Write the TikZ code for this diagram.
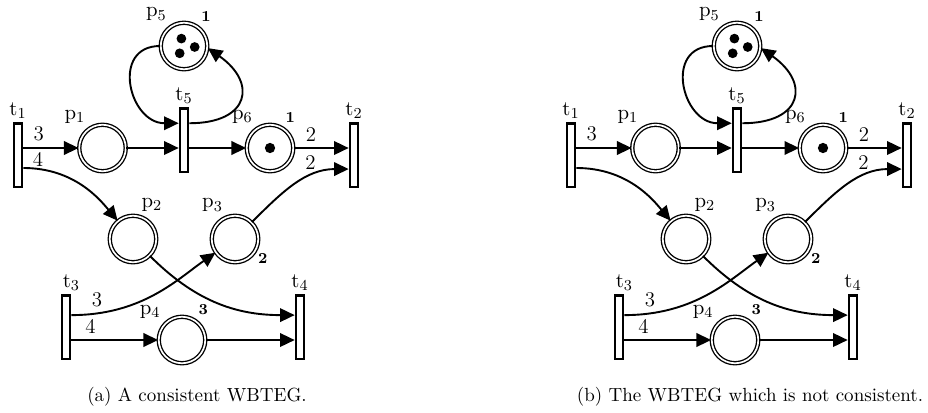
\documentclass[tikz,border=0pt]{standalone}
\usetikzlibrary{arrows.meta,calc}

\tikzset{
  place/.style={circle, draw, double, line width=0.7pt, double distance=0.9pt,
    minimum size=0.86cm, inner sep=0pt},
  trans/.style={rectangle, draw, line width=1.2pt, minimum width=0.155cm,
    minimum height=1.17cm, inner sep=0pt},
  arc/.style={-{Triangle[length=2.7mm,width=2.5mm]}, line width=1pt},
  every label/.style={font=\fontsize{11}{13}\selectfont, label distance=-1.5pt},
  tokens/.style={font=\footnotesize\bfseries},
  weight/.style={inner sep=3pt, font=\fontsize{11}{13}\selectfont},
}

\begin{document}
\begin{tikzpicture}[x=0.0185cm, y=-0.0185cm]
  \useasboundingbox (0,0) rectangle (928,412);

  \foreach \pan/\dx/\wfour/\capt in {a/0/4/{A consistent WBTEG.},
                                     b/553/{}/{The WBTEG which is not consistent.}}{
  \begin{scope}[shift={(\dx,0)}, name prefix=\pan-]
    % Transiciones
    \node[trans, label=above:$\mathrm{t}_1$] (t1) at (18,155) {};
    \node[trans, label=above:$\mathrm{t}_5$] (t5) at (184,140) {};
    \node[trans, label=above:$\mathrm{t}_2$] (t2) at (354,155) {};
    \node[trans, label={[xshift=1mm]above:$\mathrm{t}_3$}] (t3) at (66,327) {};
    \node[trans, label=above:$\mathrm{t}_4$] (t4) at (300,327) {};

    % Lugares
    \node[place, label={120:$\mathrm{p}_1$}] (p1) at (102.5,148) {};
    \node[place, label={120:$\mathrm{p}_6$}, label={[tokens]65:1}] (p6) at (270,148) {};
    \node[place, label={120:$\mathrm{p}_5$}, label={[tokens]60:1}] (p5) at (184,46) {};
    \node[place, label={85:$\mathrm{p}_2$}] (p2) at (133,239) {};
    \node[place, label={105:$\mathrm{p}_3$}, label={[tokens, label distance=-3pt]-25:2}] (p3) at (235,239) {};
    \node[place, label={135:$\mathrm{p}_4$}, label={[tokens]62:3}] (p4) at (182,340) {};

    % Marcas
    \fill (p6) circle (0.095cm);
    \fill (p5) ++(-2.6,-7.4) circle (0.09cm)
          (p5) ++(10.7,1) circle (0.09cm)
          (p5) ++(-4.3,7.3) circle (0.09cm);

    % Arcos
    \draw[arc] (t1.east |- p1) -- node[weight, pos=0.28, above] {3} (p1);
    \draw[arc] (p1) -- (t5.west |- p1);
    \draw[arc] (t5.east |- p6) -- (p6);
    \draw[arc] (p6) -- node[weight, pos=0.31, above] {2} (t2.west |- p6);
    \draw[arc] ([yshift=-2.4mm]t1.east) to[out=0, in=130]
      node[weight, pos=0.1, above, inner sep=1pt] {\wfour} (p2);
    \draw[arc] (p3) to[out=45, in=180]
      node[weight, pos=0.66, above] {2} ([yshift=-2.6mm]t2.west);
    \draw[arc] ([yshift=2.2mm]t3.east) to[out=0, in=-145]
      node[weight, pos=0.13, above] {3} (p3);
    \draw[arc] (p2) to[out=-45, in=180] ([yshift=2.2mm]t4.west);
    \draw[arc] (t3.east |- p4) -- node[weight, pos=0.22, above] {4} (p4);
    \draw[arc] (p4) -- (t4.west |- p4);

    % Bucle con p5
    \draw[arc] (p5) to[out=180, in=180, looseness=1.6] ([yshift=3.1mm]t5.west);
    \draw[arc] ([yshift=3.1mm]t5.east) to[out=0, in=-35, looseness=2] (p5.-5);

    % Leyenda
    \node (cap) at (197,397) {(\pan) \capt};
  \end{scope}
  }
\end{tikzpicture}
\end{document}
